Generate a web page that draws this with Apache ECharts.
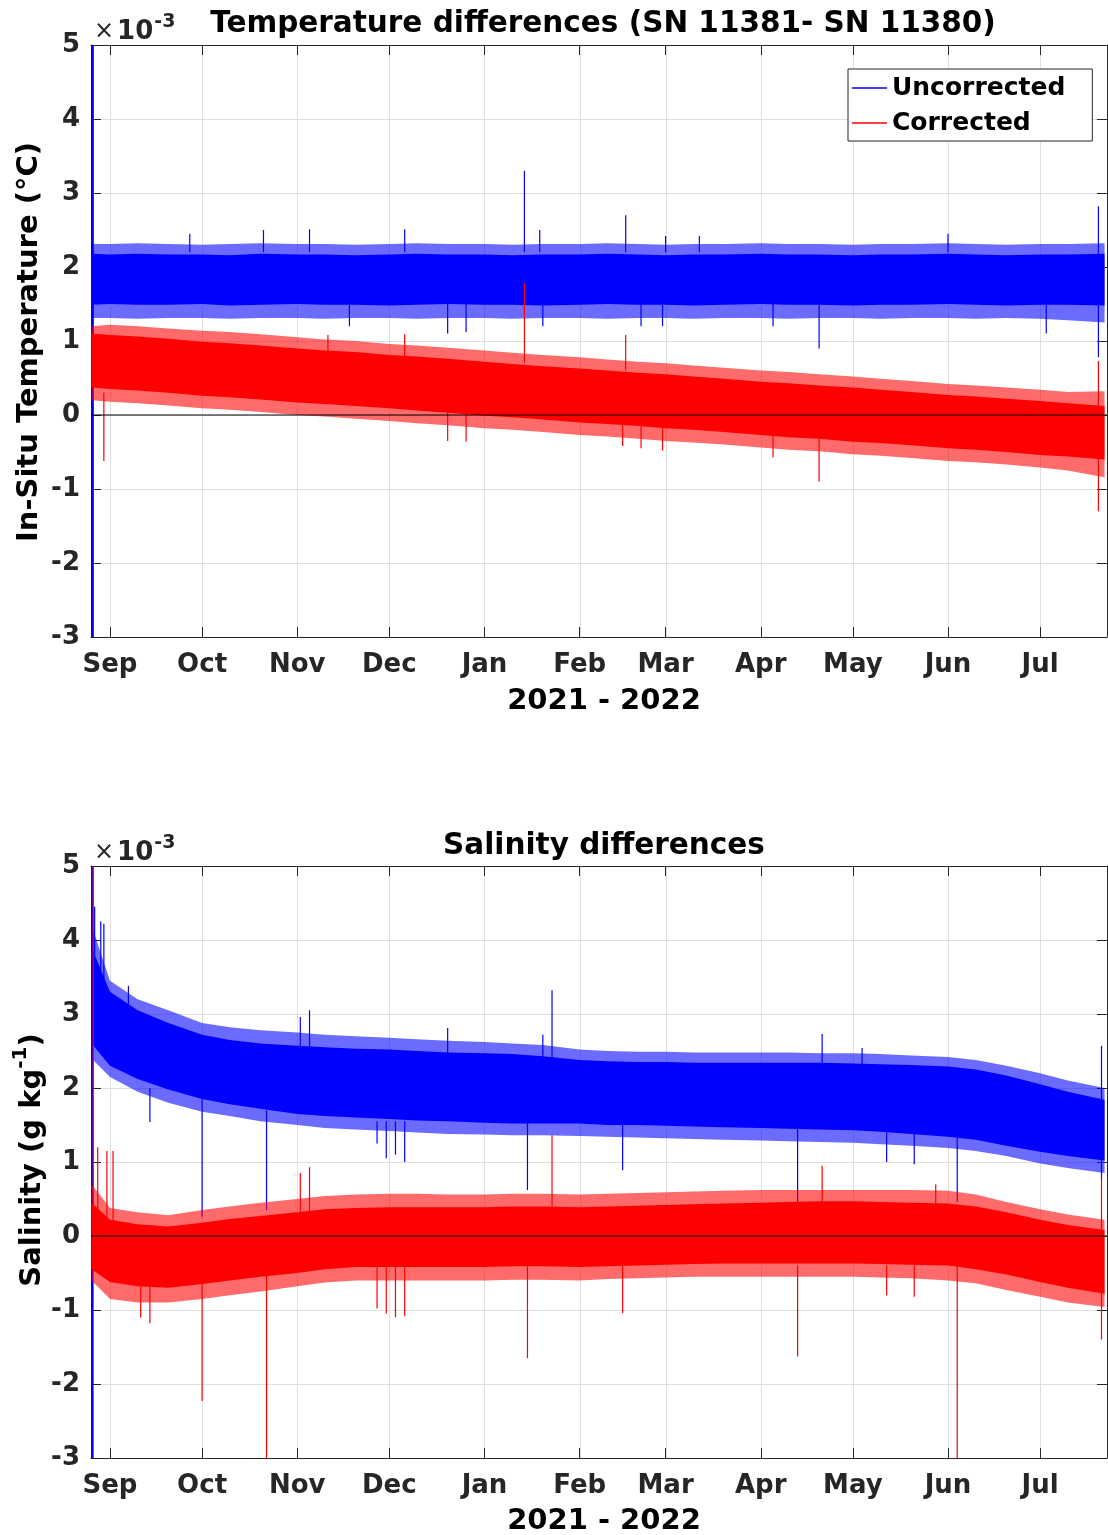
<!DOCTYPE html>
<html>
<head>
<meta charset="utf-8">
<script src="https://cdn.jsdelivr.net/npm/echarts@6/dist/echarts.min.js"></script>
<style>
  html, body { margin: 0; padding: 0; background: #ffffff; }
  #chart { width: 1108px; height: 1535px; }
</style>
</head>
<body>
<div id="chart"></div>
<script>
// ---------- data (values in units of 1e-3) ----------
const monthNames = ['Jan','Feb','Mar','Apr','May','Jun','Jul','Aug','Sep','Oct','Nov','Dec'];
const monthTickDates = ['2021-09-01','2021-10-01','2021-11-01','2021-12-01','2022-01-01','2022-02-01',
  '2022-03-01','2022-04-01','2022-05-01','2022-06-01','2022-07-01'];
const axisStart = '2021-08-25T19:30:00';
const axisEnd = '2022-07-22T19:00:00';

// dates at which the envelope of each noisy record was read
const bandDates = ['2021-08-26','2021-09-01','2021-09-10','2021-09-20','2021-10-01','2021-10-10','2021-10-20',
  '2021-11-01','2021-11-10','2021-11-20','2021-12-01','2021-12-10','2021-12-20','2022-01-01','2022-01-10',
  '2022-01-20','2022-02-01','2022-02-10','2022-02-20','2022-03-01','2022-03-10','2022-03-20','2022-04-01',
  '2022-04-10','2022-04-20','2022-05-01','2022-05-10','2022-05-20','2022-06-01','2022-06-10','2022-06-20',
  '2022-07-01','2022-07-10','2022-07-22'];

// Temperature, uncorrected: dense core and outer fringe
const tempUncHi  = [2.18,2.17,2.18,2.17,2.17,2.16,2.18,2.17,2.17,2.16,2.17,2.18,2.17,2.17,2.16,2.17,2.17,2.18,2.17,2.16,2.17,2.17,2.18,2.17,2.17,2.16,2.17,2.17,2.18,2.17,2.16,2.17,2.17,2.18];
const tempUncLo  = [1.49,1.50,1.49,1.49,1.50,1.48,1.49,1.50,1.49,1.49,1.48,1.49,1.50,1.49,1.49,1.48,1.49,1.50,1.49,1.49,1.48,1.49,1.50,1.49,1.49,1.48,1.49,1.49,1.50,1.49,1.48,1.49,1.49,1.48];
const tempUncHiF = [2.31,2.31,2.32,2.31,2.30,2.31,2.32,2.31,2.31,2.30,2.31,2.32,2.31,2.31,2.30,2.31,2.31,2.32,2.31,2.30,2.31,2.31,2.32,2.31,2.31,2.30,2.31,2.31,2.32,2.31,2.30,2.31,2.31,2.32];
const tempUncLoF = [1.31,1.31,1.30,1.31,1.31,1.30,1.31,1.31,1.30,1.31,1.31,1.30,1.31,1.31,1.30,1.31,1.31,1.30,1.31,1.31,1.30,1.31,1.31,1.30,1.31,1.31,1.30,1.31,1.31,1.30,1.31,1.30,1.28,1.25];

// Temperature, corrected
const tempCorHi  = [1.10,1.08,1.06,1.03,0.99,0.97,0.94,0.90,0.87,0.85,0.81,0.79,0.76,0.72,0.69,0.66,0.63,0.60,0.57,0.55,0.52,0.49,0.45,0.43,0.40,0.37,0.34,0.31,0.27,0.25,0.22,0.19,0.16,0.12];
const tempCorLo  = [0.37,0.35,0.33,0.30,0.26,0.24,0.21,0.17,0.15,0.12,0.09,0.06,0.03,-0.01,-0.03,-0.06,-0.10,-0.12,-0.15,-0.18,-0.20,-0.23,-0.27,-0.30,-0.32,-0.36,-0.38,-0.41,-0.45,-0.47,-0.50,-0.54,-0.56,-0.60];
const tempCorHiF = [1.20,1.22,1.20,1.17,1.14,1.12,1.09,1.05,1.02,1.00,0.96,0.94,0.91,0.87,0.84,0.81,0.78,0.75,0.72,0.70,0.67,0.64,0.60,0.58,0.55,0.52,0.49,0.46,0.42,0.40,0.37,0.34,0.31,0.32];
const tempCorLoF = [0.20,0.18,0.16,0.13,0.09,0.07,0.04,0.00,-0.02,-0.05,-0.08,-0.11,-0.14,-0.18,-0.20,-0.23,-0.27,-0.29,-0.32,-0.35,-0.37,-0.40,-0.44,-0.47,-0.49,-0.53,-0.55,-0.58,-0.62,-0.64,-0.67,-0.71,-0.75,-0.84];

// Salinity, uncorrected
const salUncHi  = [3.90,3.30,3.05,2.88,2.72,2.65,2.60,2.57,2.55,2.53,2.52,2.50,2.48,2.47,2.46,2.43,2.38,2.36,2.35,2.35,2.34,2.34,2.34,2.34,2.34,2.33,2.32,2.31,2.29,2.25,2.17,2.05,1.95,1.84];
const salUncLo  = [2.60,2.30,2.12,1.98,1.85,1.78,1.72,1.65,1.62,1.60,1.58,1.56,1.55,1.53,1.52,1.52,1.52,1.50,1.50,1.49,1.48,1.47,1.46,1.45,1.44,1.43,1.41,1.38,1.34,1.30,1.22,1.14,1.08,1.02];
const salUncHiF = [4.20,3.45,3.20,3.05,2.88,2.82,2.78,2.75,2.72,2.70,2.68,2.66,2.64,2.62,2.60,2.58,2.52,2.50,2.49,2.49,2.48,2.48,2.48,2.48,2.47,2.47,2.46,2.44,2.42,2.38,2.30,2.20,2.10,2.00];
const salUncLoF = [2.40,2.15,1.95,1.80,1.68,1.62,1.55,1.50,1.46,1.44,1.42,1.40,1.38,1.37,1.36,1.36,1.35,1.34,1.33,1.32,1.31,1.30,1.29,1.28,1.27,1.26,1.24,1.22,1.19,1.15,1.08,0.98,0.92,0.85];

// Salinity, corrected
const salCorHi  = [0.45,0.22,0.16,0.13,0.18,0.23,0.27,0.32,0.36,0.38,0.39,0.39,0.39,0.39,0.40,0.40,0.39,0.40,0.41,0.42,0.43,0.44,0.45,0.46,0.47,0.47,0.46,0.45,0.44,0.40,0.32,0.22,0.15,0.08];
const salCorLo  = [-0.45,-0.62,-0.68,-0.70,-0.65,-0.60,-0.55,-0.50,-0.45,-0.42,-0.42,-0.42,-0.42,-0.42,-0.41,-0.41,-0.42,-0.41,-0.40,-0.39,-0.38,-0.37,-0.37,-0.37,-0.37,-0.37,-0.38,-0.39,-0.40,-0.45,-0.52,-0.62,-0.70,-0.78];
const salCorHiF = [0.70,0.38,0.32,0.28,0.35,0.40,0.45,0.50,0.54,0.56,0.57,0.57,0.56,0.56,0.57,0.57,0.56,0.57,0.58,0.59,0.60,0.61,0.62,0.62,0.62,0.62,0.62,0.62,0.61,0.56,0.46,0.36,0.29,0.22];
const salCorLoF = [-0.60,-0.85,-0.90,-0.90,-0.85,-0.80,-0.75,-0.68,-0.63,-0.60,-0.60,-0.60,-0.60,-0.60,-0.59,-0.59,-0.60,-0.58,-0.57,-0.56,-0.55,-0.55,-0.55,-0.55,-0.55,-0.55,-0.56,-0.57,-0.60,-0.64,-0.73,-0.82,-0.90,-0.96];

// isolated excursions: [date, low, high]
const tempUncSpikes = [['2021-09-27',2.2,2.45],['2021-10-21',2.2,2.50],['2021-11-05',2.2,2.51],['2021-11-18',1.20,1.5],
  ['2021-12-06',2.2,2.51],['2021-12-20',1.10,1.5],['2021-12-26',1.12,1.5],['2022-01-14',2.2,3.30],
  ['2022-01-19',2.2,2.50],['2022-01-20',1.20,1.5],['2022-02-16',2.2,2.70],['2022-02-21',1.20,1.5],
  ['2022-02-28',1.20,1.5],['2022-03-01',2.2,2.42],['2022-03-12',2.2,2.42],['2022-04-05',1.20,1.5],
  ['2022-04-20',0.90,1.5],['2022-06-01',2.2,2.45],['2022-07-03',1.10,1.5],['2022-07-20',0.78,2.82]];
const tempCorSpikes = [['2021-08-30',-0.62,0.3],['2021-11-11',0.7,1.08],['2021-12-06',0.6,1.09],
  ['2021-12-20',-0.35,0.1],['2021-12-26',-0.36,0.1],['2022-01-14',0.70,1.78],['2022-02-16',0.60,1.08],
  ['2022-02-15',-0.42,0.0],['2022-02-21',-0.45,0.0],['2022-02-28',-0.48,0.0],['2022-04-05',-0.57,-0.2],
  ['2022-04-20',-0.90,0.0],['2022-07-20',-1.30,0.73]];
const salUncSpikes = [['2021-08-27',3.0,4.45],['2021-08-29',3.0,4.25],['2021-08-30',3.0,4.22],['2021-09-07',2.6,3.38],
  ['2021-09-14',1.54,2.0],['2021-10-01',0.26,1.85],['2021-10-22',0.35,1.70],['2021-11-02',2.4,2.96],
  ['2021-11-05',2.4,3.05],['2021-11-27',1.25,1.55],['2021-11-30',1.05,1.55],['2021-12-03',1.10,1.55],
  ['2021-12-06',1.00,1.55],['2021-12-20',2.4,2.81],['2022-01-15',0.62,1.55],['2022-01-20',2.4,2.72],
  ['2022-01-23',2.4,3.32],['2022-02-15',0.89,1.5],['2022-04-13',0.46,1.45],['2022-04-21',2.3,2.73],
  ['2022-05-04',2.3,2.54],['2022-05-12',1.00,1.45],['2022-05-21',0.97,1.45],['2022-06-04',0.46,1.35],
  ['2022-07-21',0.76,2.57]];
const salCorSpikes = [['2021-08-28',0.0,1.2],['2021-08-31',0.0,1.15],['2021-09-02',0.0,1.15],['2021-09-11',-1.1,-0.6],
  ['2021-09-14',-1.18,-0.6],['2021-10-01',-2.23,-0.6],['2021-10-22',-3.0,-0.5],['2021-11-02',0.3,0.85],
  ['2021-11-05',0.3,0.93],['2021-11-27',-0.98,-0.4],['2021-11-30',-1.05,-0.4],['2021-12-03',-1.10,-0.4],
  ['2021-12-06',-1.08,-0.4],['2022-01-15',-1.65,-0.4],['2022-01-23',0.4,1.36],['2022-02-15',-1.04,-0.4],
  ['2022-04-13',-1.63,-0.4],['2022-04-21',0.4,0.95],['2022-05-12',-0.80,-0.4],['2022-05-21',-0.82,-0.4],
  ['2022-05-28',0.4,0.70],['2022-06-04',-3.0,-0.4],['2022-07-21',-1.4,0.8]];

// first samples, off scale in both directions
const tempUncStart = [['2021-08-26T06:00:00',-3,5]];
const salUncStart  = [['2021-08-26T06:00:00',-3,5]];
const salCorStart  = [['2021-08-26T12:00:00',-0.2,5]];

const zeroLine = [[axisStart,0],[axisEnd,0]];

// ---------- helpers ----------
const FONT = 'DejaVu Sans';
const AXIS_COLOR = '#262626';
const GRID_COLOR = '#dfdfdf';
const BLUE = '#0000ff';
const RED = '#ff0000';

function toTime(s) {
  return new Date(s.length === 10 ? s + 'T00:00:00' : s).getTime();
}
const monthTicks = monthTickDates.map(toTime);

function bandSeries(name, gi, hi, lo, color, opacity, z) {
  return {
    type: 'custom', name: name, xAxisIndex: gi * 2, yAxisIndex: gi * 2,
    z: z, silent: true, clip: true,
    itemStyle: { color: color },
    data: bandDates.map((d, i) => [toTime(d), lo[i], hi[i]]),
    encode: { x: 0, y: [1, 2] },
    renderItem: function (params, api) {
      if (params.dataIndex !== 0) return;
      const top = bandDates.map((d, i) => api.coord([toTime(d), hi[i]]));
      const bottom = bandDates.map((d, i) => api.coord([toTime(d), lo[i]])).reverse();
      return {
        type: 'polygon',
        shape: { points: top.concat(bottom) },
        style: { fill: color, opacity: opacity }
      };
    }
  };
}

function spikeSeries(name, gi, rows, color, width, z) {
  return {
    type: 'custom', name: name, xAxisIndex: gi * 2, yAxisIndex: gi * 2,
    z: z, silent: true, clip: true,
    itemStyle: { color: color },
    data: rows.map(r => [toTime(r[0]), r[1], r[2]]),
    encode: { x: 0, y: [1, 2] },
    renderItem: function (params, api) {
      const a = api.coord([api.value(0), api.value(1)]);
      const b = api.coord([api.value(0), api.value(2)]);
      return {
        type: 'line',
        shape: { x1: a[0], y1: a[1], x2: b[0], y2: b[1] },
        style: { stroke: color, lineWidth: width }
      };
    }
  };
}

function zeroSeries(gi) {
  return {
    type: 'line', xAxisIndex: gi * 2, yAxisIndex: gi * 2, z: 20, silent: true,
    symbol: 'none', data: zeroLine.map(p => [toTime(p[0]), p[1]]),
    lineStyle: { color: '#000000', width: 1.2 }
  };
}

// month grid lines, drawn at the tick dates
function monthGridSeries(gi) {
  return {
    type: 'custom', xAxisIndex: gi * 2, yAxisIndex: gi * 2, z: 0, silent: true, clip: true,
    data: monthTicks.map(t => [t]),
    encode: { x: 0 },
    renderItem: function (params, api) {
      const a = api.coord([api.value(0), -3]);
      const b = api.coord([api.value(0), 5]);
      const x = Math.round(a[0]) + 0.5;
      return {
        type: 'line',
        shape: { x1: x, y1: a[1], x2: x, y2: b[1] },
        style: { stroke: GRID_COLOR, lineWidth: 1 }
      };
    }
  };
}

const gridTops = [45, 866];
const grids = gridTops.map(t => ({ left: 91, right: 1, top: t, height: 592, containLabel: false }));

const xAxes = [];
const yAxes = [];
[0, 1].forEach(gi => {
  xAxes.push({
    gridIndex: gi, type: 'value', position: 'bottom',
    min: toTime(axisStart), max: toTime(axisEnd),
    axisLine: { show: true, onZero: false, lineStyle: { color: AXIS_COLOR, width: 1 } },
    axisTick: { show: true, inside: true, length: 10, customValues: monthTicks, lineStyle: { color: AXIS_COLOR } },
    axisLabel: {
      show: true, customValues: monthTicks, margin: 15,
      formatter: v => monthNames[new Date(v).getMonth()],
      fontFamily: FONT, fontWeight: 'bold', fontSize: 26, color: AXIS_COLOR
    },
    splitLine: { show: false }
  });
  xAxes.push({
    gridIndex: gi, type: 'value', position: 'top',
    min: toTime(axisStart), max: toTime(axisEnd),
    axisLine: { show: true, onZero: false, lineStyle: { color: AXIS_COLOR, width: 1 } },
    axisTick: { show: true, inside: true, length: 10, customValues: monthTicks, lineStyle: { color: AXIS_COLOR } },
    axisLabel: { show: false },
    splitLine: { show: false }
  });
  yAxes.push({
    gridIndex: gi, type: 'value', position: 'left', min: -3, max: 5, interval: 1,
    axisLine: { show: true, onZero: false, lineStyle: { color: AXIS_COLOR, width: 1 } },
    axisTick: { show: true, inside: true, length: 10, lineStyle: { color: AXIS_COLOR } },
    axisLabel: {
      show: true, margin: 11,
      fontFamily: FONT, fontWeight: 'bold', fontSize: 26, color: AXIS_COLOR
    },
    splitLine: { show: true, lineStyle: { color: GRID_COLOR, width: 1 } }
  });
  yAxes.push({
    gridIndex: gi, type: 'value', position: 'right', min: -3, max: 5, interval: 1,
    axisLine: { show: true, onZero: false, lineStyle: { color: AXIS_COLOR, width: 1 } },
    axisTick: { show: true, inside: true, length: 10, lineStyle: { color: AXIS_COLOR } },
    axisLabel: { show: false },
    splitLine: { show: false }
  });
});

const FRINGE_OPACITY = 0.58;

const series = [
  monthGridSeries(0),
  monthGridSeries(1),
  // temperature panel
  bandSeries('Uncorrected fringe', 0, tempUncHiF, tempUncLoF, BLUE, FRINGE_OPACITY, 2),
  bandSeries('Uncorrected', 0, tempUncHi, tempUncLo, BLUE, 1, 3),
  spikeSeries('Uncorrected spikes', 0, tempUncSpikes, BLUE, 1.2, 4),
  spikeSeries('Uncorrected start', 0, tempUncStart, BLUE, 3, 4),
  bandSeries('Corrected fringe', 0, tempCorHiF, tempCorLoF, RED, FRINGE_OPACITY, 5),
  bandSeries('Corrected', 0, tempCorHi, tempCorLo, RED, 1, 6),
  spikeSeries('Corrected spikes', 0, tempCorSpikes, RED, 1.2, 7),
  zeroSeries(0),
  // salinity panel
  bandSeries('Sal uncorrected fringe', 1, salUncHiF, salUncLoF, BLUE, FRINGE_OPACITY, 2),
  bandSeries('Sal uncorrected', 1, salUncHi, salUncLo, BLUE, 1, 3),
  spikeSeries('Sal uncorrected spikes', 1, salUncSpikes, BLUE, 1.2, 4),
  spikeSeries('Sal uncorrected start', 1, salUncStart, BLUE, 2.5, 4),
  bandSeries('Sal corrected fringe', 1, salCorHiF, salCorLoF, RED, FRINGE_OPACITY, 5),
  bandSeries('Sal corrected', 1, salCorHi, salCorLo, RED, 1, 6),
  spikeSeries('Sal corrected spikes', 1, salCorSpikes, RED, 1.2, 7),
  spikeSeries('Sal corrected start', 1, salCorStart, RED, 1, 7),
  zeroSeries(1)
];

function label(text, x, y, size, extra) {
  return Object.assign({
    type: 'text', x: x, y: y, z: 50, silent: true,
    style: {
      text: text, fill: '#000000', fontFamily: FONT, fontWeight: 'bold', fontSize: size,
      textAlign: 'center', textVerticalAlign: 'middle'
    }
  }, extra || {});
}

function exponentLabel(y) {
  return {
    type: 'text', x: 94, y: y, z: 50, silent: true,
    style: {
      text: '{x|×}{b|10}{s|-3}',
      textAlign: 'left', textVerticalAlign: 'middle',
      rich: {
        x: { fontFamily: FONT, fontSize: 24, fill: AXIS_COLOR, verticalAlign: 'bottom', padding: [6, 3, 1, 0] },
        b: { fontFamily: FONT, fontWeight: 'bold', fontSize: 26, fill: AXIS_COLOR, verticalAlign: 'bottom', padding: [6, 0, 0, 0] },
        s: { fontFamily: FONT, fontWeight: 'bold', fontSize: 19, fill: AXIS_COLOR, verticalAlign: 'top', padding: [0, 0, 0, 1] }
      }
    }
  };
}

const option = {
  animation: false,
  backgroundColor: '#ffffff',
  grid: grids,
  xAxis: xAxes,
  yAxis: yAxes,
  legend: {
    show: true, left: 848, top: 69, orient: 'vertical',
    data: ['Uncorrected', 'Corrected'],
    icon: 'rect', itemWidth: 35, itemHeight: 1.5, itemGap: 9,
    backgroundColor: '#ffffff', borderColor: AXIS_COLOR, borderWidth: 1,
    padding: [6, 27, 5, 4],
    selectedMode: false,
    textStyle: { fontFamily: FONT, fontWeight: 'bold', fontSize: 25, color: '#000000', lineHeight: 26 }
  },
  graphic: [
    label('Temperature differences (SN 11381- SN 11380)', 603, 24, 29.5),
    label('Salinity differences', 604, 846, 29.5),
    label('2021 - 2022', 604, 701, 29),
    label('2021 - 2022', 604, 1521, 29),
    exponentLabel(29),
    exponentLabel(850),
    label('In-Situ Temperature (°C)', 29, 342, 29, { rotation: Math.PI / 2 }),
    {
      type: 'text', x: 29, y: 1160, z: 50, silent: true, rotation: Math.PI / 2,
      style: {
        text: '{a|Salinity (g kg}{s|-1}{a|)}',
        textAlign: 'center', textVerticalAlign: 'middle',
        rich: {
          a: { fontFamily: FONT, fontWeight: 'bold', fontSize: 29, fill: '#000000', verticalAlign: 'bottom', padding: [7, 0, 0, 0] },
          s: { fontFamily: FONT, fontWeight: 'bold', fontSize: 20, fill: '#000000', verticalAlign: 'top' }
        }
      }
    }
  ],
  series: series
};

const chart = echarts.init(document.getElementById('chart'), null, { renderer: 'canvas' });
chart.setOption(option);
</script>
</body>
</html>
